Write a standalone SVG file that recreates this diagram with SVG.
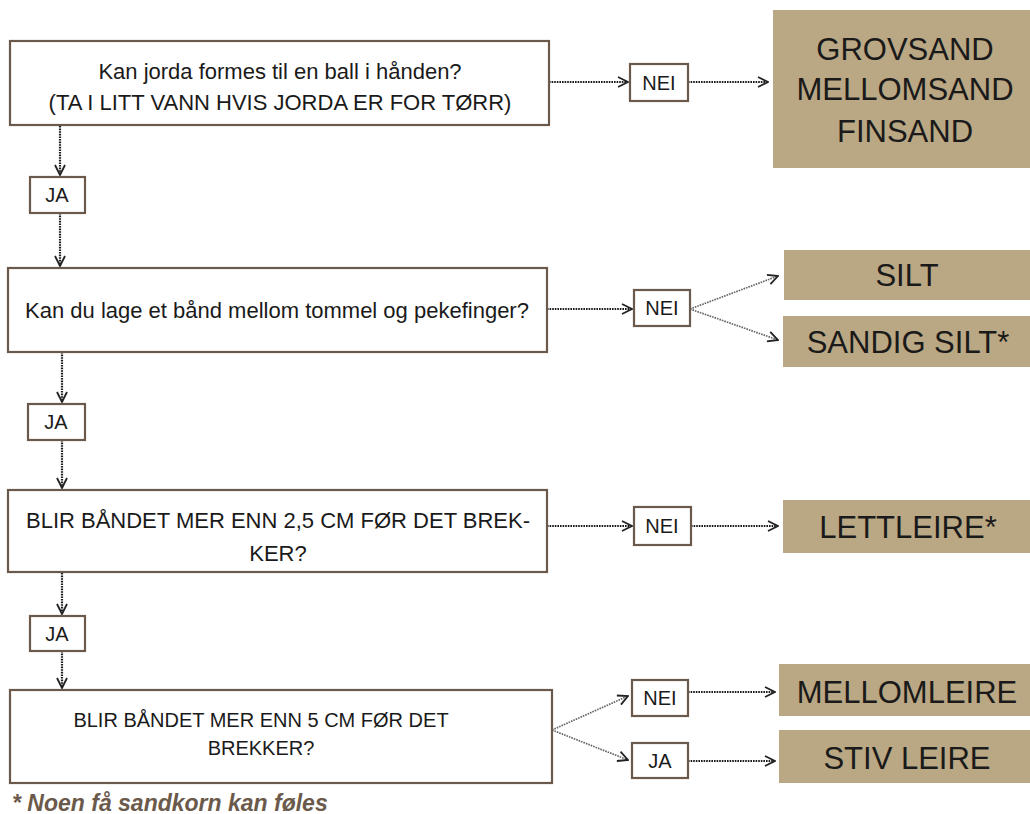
<svg xmlns="http://www.w3.org/2000/svg" width="1030" height="814" viewBox="0 0 1030 814">
<style>
.q{fill:#fff;stroke:#6b5a4b;stroke-width:2.2}
.r{fill:#baa783}
.t{font-family:"Liberation Sans",Arial,sans-serif;font-size:22px;fill:#1a1a1a;text-anchor:middle}
.s{font-family:"Liberation Sans",Arial,sans-serif;font-size:20px;fill:#1a1a1a;text-anchor:middle}
.rt{font-family:"Liberation Sans",Arial,sans-serif;font-size:31px;fill:#1a1a1a;text-anchor:middle}
.c{fill:none;stroke:#1a1a1a;stroke-width:2.2;stroke-dasharray:1.6 1}
.g{fill:none;stroke:#666;stroke-width:1.7;stroke-dasharray:1.6 1}
.fn{font-family:"Liberation Sans",Arial,sans-serif;font-size:23px;font-style:italic;font-weight:bold;fill:#6b5a4b}
</style>
<defs>
<marker id="a" viewBox="0 0 12 12" refX="11" refY="6" markerWidth="12" markerHeight="12" markerUnits="userSpaceOnUse" orient="auto">
<path d="M1,1 L11,6 L1,11" fill="none" stroke="#222" stroke-width="1.8"/>
</marker>
</defs>
<g id="connectors">
<line class="c" x1="549" y1="82" x2="628" y2="82" marker-end="url(#a)"/>
<line class="c" x1="688" y1="82" x2="768" y2="82" marker-end="url(#a)"/>
<line class="c" x1="60" y1="126" x2="60" y2="175" marker-end="url(#a)"/>
<line class="c" x1="60" y1="213" x2="60" y2="266" marker-end="url(#a)"/>
<line class="c" x1="547" y1="309" x2="632" y2="309" marker-end="url(#a)"/>
<line class="g" x1="690" y1="309" x2="778" y2="276" marker-end="url(#a)"/>
<line class="g" x1="690" y1="309" x2="778" y2="340" marker-end="url(#a)"/>
<line class="c" x1="62" y1="352" x2="62" y2="402" marker-end="url(#a)"/>
<line class="c" x1="62" y1="440" x2="62" y2="488" marker-end="url(#a)"/>
<line class="c" x1="547" y1="526" x2="632" y2="526" marker-end="url(#a)"/>
<line class="c" x1="691" y1="526" x2="778" y2="526" marker-end="url(#a)"/>
<line class="c" x1="62" y1="573" x2="62" y2="614" marker-end="url(#a)"/>
<line class="c" x1="62" y1="651" x2="62" y2="688" marker-end="url(#a)"/>
<line class="g" x1="552" y1="730" x2="628" y2="696" marker-end="url(#a)"/>
<line class="g" x1="552" y1="730" x2="628" y2="760" marker-end="url(#a)"/>
<line class="c" x1="688" y1="692" x2="775" y2="692" marker-end="url(#a)"/>
<line class="c" x1="688" y1="761" x2="775" y2="761" marker-end="url(#a)"/>
</g>
<g id="q1"><rect class="q" x="10" y="41" width="539" height="84"/>
<text class="t" x="280" y="79">Kan jorda formes til en ball i hånden?</text>
<text class="t" x="280" y="110">(TA I LITT VANN HVIS JORDA ER FOR TØRR)</text></g>
<g id="nei1"><rect class="q" x="630" y="64" width="58" height="37"/><text class="s" x="659" y="90">NEI</text></g>
<g id="r1"><rect class="r" x="773" y="10" width="257" height="158"/>
<text class="rt" x="905" y="60">GROVSAND</text>
<text class="rt" x="905" y="100">MELLOMSAND</text>
<text class="rt" x="905" y="142">FINSAND</text></g>
<g id="ja1"><rect class="q" x="30" y="177" width="55" height="36"/><text class="s" x="57" y="202">JA</text></g>
<g id="q2"><rect class="q" x="8" y="268" width="539" height="84"/>
<text class="t" x="277" y="318">Kan du lage et bånd mellom tommel og pekefinger?</text></g>
<g id="nei2"><rect class="q" x="634" y="290" width="56" height="36"/><text class="s" x="662" y="315">NEI</text></g>
<g id="r2"><rect class="r" x="784" y="250" width="246" height="50"/><text class="rt" x="907" y="286">SILT</text></g>
<g id="r3"><rect class="r" x="783" y="316" width="247" height="51"/><text class="rt" x="908" y="353">SANDIG SILT*</text></g>
<g id="ja2"><rect class="q" x="28" y="404" width="57" height="36"/><text class="s" x="56" y="429">JA</text></g>
<g id="q3"><rect class="q" x="8" y="490" width="539" height="82"/>
<text class="t" x="278" y="528">BLIR BÅNDET MER ENN 2,5 CM FØR DET BREK-</text>
<text class="t" x="278" y="561">KER?</text></g>
<g id="nei3"><rect class="q" x="634" y="507" width="57" height="38"/><text class="s" x="662" y="533">NEI</text></g>
<g id="r4"><rect class="r" x="783" y="500" width="247" height="53"/><text class="rt" x="908" y="538">LETTLEIRE*</text></g>
<g id="ja3"><rect class="q" x="30" y="616" width="55" height="35"/><text class="s" x="57" y="641">JA</text></g>
<g id="q4"><rect class="q" x="10" y="690" width="542" height="93"/>
<text class="s" x="261" y="727">BLIR BÅNDET MER ENN 5 CM FØR DET</text>
<text class="s" x="261" y="755">BREKKER?</text></g>
<g id="nei4"><rect class="q" x="632" y="680" width="56" height="36"/><text class="s" x="660" y="705">NEI</text></g>
<g id="ja4"><rect class="q" x="632" y="743" width="56" height="35"/><text class="s" x="660" y="768">JA</text></g>
<g id="r5"><rect class="r" x="779" y="664" width="251" height="52"/><text class="rt" x="907" y="703">MELLOMLEIRE</text></g>
<g id="r6"><rect class="r" x="779" y="730" width="251" height="53"/><text class="rt" x="907" y="769">STIV LEIRE</text></g>
<text class="fn" x="12" y="811">* Noen få sandkorn kan føles</text>
</svg>
